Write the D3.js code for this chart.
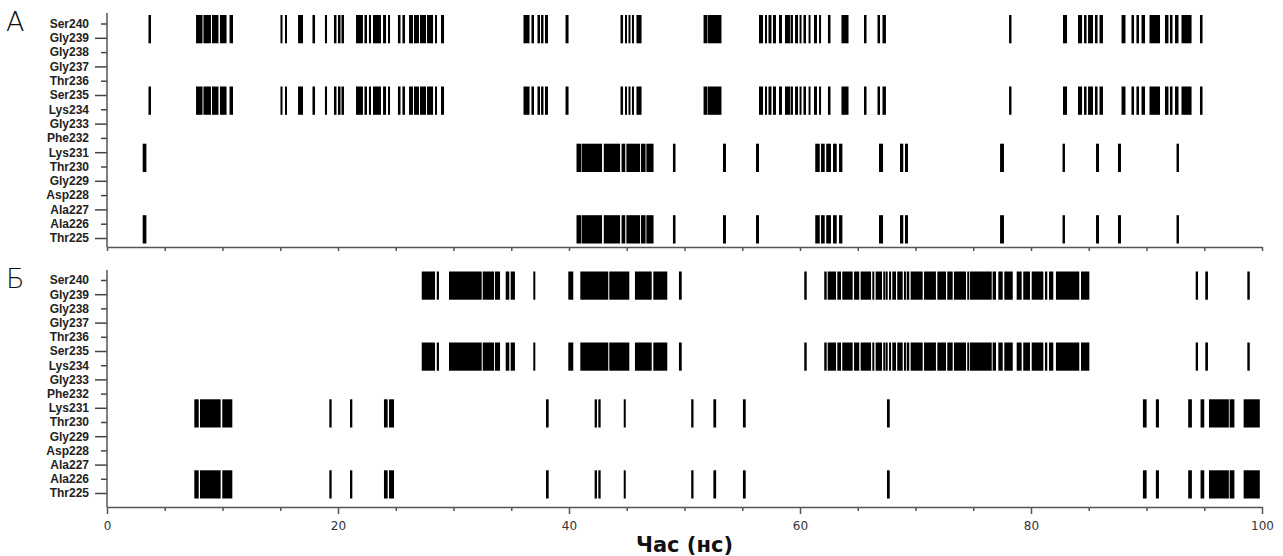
<!DOCTYPE html>
<html lang="uk">

<head>
  <meta charset="utf-8">
  <title>Contacts</title>
  <style>
    body { margin: 0; background: #fff; }
    svg { display: block; }
  </style>
</head>

<body>
  <script src="https://cdn.jsdelivr.net/npm/d3@7/dist/d3.min.js"></script>
  <script>
    // residues, top to bottom
    var residues = ["Ser240", "Gly239", "Gly238", "Gly237", "Thr236", "Ser235", "Lys234", "Gly233",
      "Phe232", "Lys231", "Thr230", "Gly229", "Asp228", "Ala227", "Ala226", "Thr225"];

    var panelNames = ["А", "Б"];
    var xTicksMajor = [0, 20, 40, 60, 80, 100];
    var xTicksMinor = d3.range(0, 101, 5);
    var xTitle = "Час (нс)";

    // contact intervals [start, end] in ns
    var contactsA1 = [[3.59, 3.81], [7.71, 8.27], [8.35, 9.0], [9.09, 9.65], [9.78, 10.35], [10.61, 10.91],
      [15.02, 15.19], [15.41, 15.54], [16.54, 16.97], [17.79, 18.01], [18.87, 19.05], [19.65, 19.87],
      [20.0, 20.22], [20.3, 20.52], [21.56, 22.16], [22.29, 22.51], [22.68, 22.86], [23.03, 23.72],
      [23.9, 24.16], [24.33, 24.5], [25.19, 25.41], [25.58, 25.8], [26.15, 26.49], [26.58, 27.01],
      [27.1, 27.62], [27.71, 28.23], [28.4, 28.57], [28.92, 29.18],
      [36.06, 36.58], [36.75, 36.97], [37.27, 37.49], [37.58, 37.79], [37.92, 38.18], [39.7, 39.96],
      [44.46, 44.68], [44.85, 45.02], [45.15, 45.32], [45.45, 45.58], [45.84, 46.28],
      [51.65, 51.95], [51.99, 53.2],
      [56.45, 56.8], [56.97, 57.14], [57.27, 57.53], [57.66, 57.92], [58.18, 58.44], [58.7, 59.13],
      [59.18, 59.39], [59.57, 59.83], [59.96, 60.13], [60.3, 60.52], [60.74, 60.87], [61.21, 61.47],
      [61.65, 61.82], [62.42, 62.64], [63.59, 64.2], [65.54, 65.76], [66.71, 66.93], [67.14, 67.44],
      [78.1, 78.31], [82.77, 83.12], [84.07, 84.42], [84.59, 84.81], [84.94, 85.37], [85.54, 85.76],
      [85.93, 86.23], [87.84, 88.18], [88.7, 88.92], [89.13, 89.35], [89.57, 89.87], [90.26, 91.17],
      [91.6, 91.9], [92.03, 92.25], [92.47, 92.77], [93.03, 93.9], [94.63, 94.85]];

    var contactsA2 = [[3.09, 3.41], [40.65, 41.04], [41.09, 42.86], [43.01, 44.42], [44.55, 44.87],
      [44.97, 46.15], [46.23, 46.63], [46.7, 47.32], [49.0, 49.22], [53.33, 53.59], [56.19, 56.45],
      [61.32, 61.71], [61.82, 62.14], [62.27, 62.68], [62.86, 63.18], [63.38, 63.67], [66.84, 67.19],
      [68.66, 68.94], [69.09, 69.35], [77.32, 77.66], [82.73, 82.94], [85.63, 85.89], [87.53, 87.79],
      [92.6, 92.81]];

    var contactsB1 = [[27.25, 28.4], [28.55, 28.74], [29.61, 32.44], [32.53, 33.51], [33.59, 34.03],
      [34.52, 34.83], [34.95, 35.32], [36.91, 37.06], [39.94, 40.37], [40.98, 43.4], [43.49, 45.22],
      [45.71, 47.16], [47.3, 48.51], [49.52, 49.76], [60.37, 60.58],
      [62.1, 62.31], [62.4, 63.12], [63.23, 63.55], [63.66, 64.56], [64.68, 65.13], [65.25, 66.15],
      [66.26, 66.43], [66.55, 67.1], [67.21, 67.3], [67.42, 67.59], [67.71, 67.88], [67.99, 68.31],
      [68.42, 68.89], [69.0, 69.12], [69.24, 69.46], [69.58, 70.62], [70.74, 71.77], [71.89, 72.64],
      [72.75, 73.22], [73.33, 74.37], [74.48, 74.61], [74.72, 76.6], [76.68, 76.97], [77.17, 77.55],
      [77.69, 78.42], [78.76, 79.19], [79.33, 79.91], [80.06, 81.07], [81.21, 81.41], [81.56, 81.93],
      [82.16, 84.18], [84.33, 85.05], [94.26, 94.46], [95.09, 95.32], [98.73, 98.94]];

    var contactsB2 = [[7.56, 7.94], [8.05, 9.84], [9.98, 10.85], [19.25, 19.45], [21.04, 21.24],
      [23.98, 24.3], [24.42, 24.85], [38.01, 38.24], [42.22, 42.42], [42.54, 42.74], [44.74, 44.9],
      [50.58, 50.78], [52.5, 52.74], [55.06, 55.3], [67.53, 67.77], [89.69, 90.01], [90.81, 91.08],
      [93.61, 93.93], [94.68, 95.0], [95.41, 97.13], [97.2, 97.61], [98.41, 99.81]];

    // which residue pairs carry which contact list
    var pairsA = [
      { rows: ["Ser240", "Gly239"], values: contactsA1 },
      { rows: ["Ser235", "Lys234"], values: contactsA1 },
      { rows: ["Lys231", "Thr230"], values: contactsA2 },
      { rows: ["Ala226", "Thr225"], values: contactsA2 }
    ];
    var pairsB = [
      { rows: ["Ser240", "Gly239"], values: contactsB1 },
      { rows: ["Ser235", "Lys234"], values: contactsB1 },
      { rows: ["Lys231", "Thr230"], values: contactsB2 },
      { rows: ["Ala226", "Thr225"], values: contactsB2 }
    ];

    var width = 1283;
    var height = 556;

    var svg = d3.select("body").append("svg")
      .attr("width", width)
      .attr("height", height);

    var x = d3.scaleLinear()
      .domain([0, 100])
      .range([107, 1262]);

    var panels = [
      { name: panelNames[0], pairs: pairsA, top: 13, first: 23.5, last: 238, bottom: 247, labels: false },
      { name: panelNames[1], pairs: pairsB, top: 270, first: 280, last: 493, bottom: 507, labels: true }
    ];

    panels.forEach(function(p) {
      var y = d3.scalePoint()
        .domain(residues)
        .range([p.first, p.last]);

      var g = svg.append("g");

      // contact bars
      p.pairs.forEach(function(pair) {
        var y0 = y(pair.rows[0]) - 8.5;
        var y1 = y(pair.rows[1]) + 5.5;
        g.append("g")
          .selectAll("rect")
          .data(pair.values)
          .enter()
          .append("rect")
          .attr("x", function(d) { return x(d[0]); })
          .attr("y", y0)
          .attr("width", function(d) { return Math.max(2, x(d[1]) - x(d[0])); })
          .attr("height", y1 - y0)
          .attr("fill", "#000");
      });

      // y axis
      var yAxis = g.append("g")
        .attr("transform", "translate(" + x(0) + ",0)")
        .call(d3.axisLeft(y).tickSize(0).tickPadding(18));
      yAxis.select(".domain").remove();
      yAxis.selectAll(".tick line")
        .attr("x2", function(d, i) { return i % 2 ? -12 : -6; })
        .attr("stroke", "#444")
        .attr("stroke-width", 1.5);
      yAxis.selectAll(".tick text")
        .attr("font-family", "'Liberation Sans', Arial, sans-serif")
        .attr("font-weight", "bold")
        .attr("font-size", 12)
        .attr("fill", "#222");

      g.append("line")
        .attr("x1", x(0)).attr("x2", x(0))
        .attr("y1", p.top).attr("y2", p.bottom)
        .attr("stroke", "#555")
        .attr("stroke-width", 1.5);

      // x axis
      var xAxis = g.append("g")
        .attr("transform", "translate(0," + p.bottom + ")");
      if (p.labels) {
        xAxis.call(d3.axisBottom(x).tickValues(xTicksMajor).tickSize(7).tickSizeOuter(0).tickPadding(7));
        g.append("g")
          .attr("transform", "translate(0," + p.bottom + ")")
          .call(d3.axisBottom(x).tickValues(xTicksMinor.filter(function(v) { return v % 20; }))
            .tickSize(4).tickFormat(""))
          .call(function(s) { s.select(".domain").remove(); })
          .selectAll("line").attr("stroke", "#555").attr("stroke-width", 1.5);
        xAxis.selectAll(".tick text")
          .attr("font-family", "'DejaVu Sans', sans-serif")
          .attr("font-size", 12)
          .attr("fill", "#333");
      } else {
        xAxis.call(d3.axisBottom(x).tickValues(xTicksMinor).tickSize(4).tickSizeOuter(0).tickFormat(""));
      }
      xAxis.select(".domain").attr("stroke", "#555").attr("stroke-width", 1.5);
      xAxis.selectAll(".tick line").attr("stroke", "#555").attr("stroke-width", 1.5);

      // panel letter
      svg.append("text")
        .attr("x", 6)
        .attr("y", p.top + 18)
        .attr("font-family", "'DejaVu Sans', sans-serif")
        .attr("font-weight", 200)
        .attr("font-size", 27)
        .attr("fill", "#111")
        .text(p.name);
    });

    svg.append("text")
      .attr("x", (x(0) + x(100)) / 2)
      .attr("y", 552)
      .attr("text-anchor", "middle")
      .attr("font-family", "'DejaVu Sans', sans-serif")
      .attr("font-weight", "bold")
      .attr("font-size", 21)
      .attr("fill", "#111")
      .text(xTitle);
  </script>
</body>

</html>
